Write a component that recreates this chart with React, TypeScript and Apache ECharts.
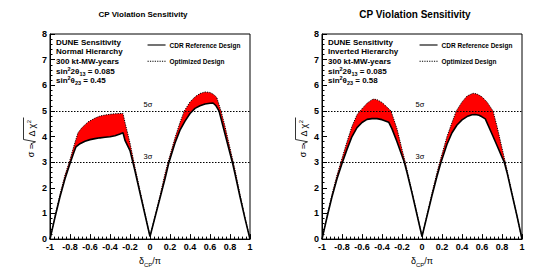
import React, { useEffect, useRef } from "react";
import * as echarts from "echarts";

const FONT = "'Liberation Sans', Arial, Helvetica, sans-serif";

// sigma reference levels
const sigmaLevels = [3, 5];
const sigmaLabels = ["3σ", "5σ"];

// Normal hierarchy – CDR reference design (solid)
const nhCdrX = [-1, -0.95, -0.9, -0.85, -0.8, -0.76, -0.74, -0.7, -0.65, -0.6, -0.55, -0.5, -0.45, -0.4, -0.35, -0.3, -0.27, -0.25, -0.2, -0.15, -0.1, -0.05, 0, 0.05, 0.1, 0.15, 0.19, 0.25, 0.3, 0.35, 0.4, 0.45, 0.5, 0.55, 0.6, 0.63, 0.66, 0.69, 0.75, 0.8, 0.823, 0.85, 0.9, 0.95, 1];
const nhCdrY = [0, 0.85, 1.65, 2.35, 2.95, 3.4, 3.6, 3.72, 3.82, 3.88, 3.92, 3.95, 3.97, 3.99, 4.03, 4.1, 4.15, 3.85, 3.45, 2.65, 1.8, 0.95, 0.1, 0.85, 1.6, 2.35, 3.0, 3.75, 4.25, 4.6, 4.9, 5.1, 5.2, 5.27, 5.3, 5.31, 5.2, 5.0, 4.1, 3.35, 3.0, 2.55, 1.65, 0.8, 0];

// Normal hierarchy – optimized design (dotted)
const nhOptX = [-1, -0.95, -0.9, -0.85, -0.8, -0.76, -0.72, -0.68, -0.62, -0.55, -0.5, -0.45, -0.4, -0.35, -0.3, -0.27, -0.25, -0.2, -0.15, -0.1, -0.05, 0, 0.05, 0.1, 0.15, 0.18, 0.25, 0.3, 0.343, 0.4, 0.45, 0.5, 0.55, 0.6, 0.633, 0.667, 0.71, 0.75, 0.8, 0.833, 0.85, 0.9, 0.95, 1];
const nhOptY = [0, 0.9, 1.75, 2.5, 3.1, 3.65, 4.15, 4.35, 4.57, 4.72, 4.8, 4.84, 4.87, 4.89, 4.9, 4.9, 4.55, 3.75, 2.8, 1.9, 1.0, 0.1, 0.9, 1.7, 2.55, 3.0, 3.95, 4.55, 5.0, 5.35, 5.55, 5.68, 5.74, 5.72, 5.65, 5.53, 5.0, 4.4, 3.55, 3.0, 2.7, 1.75, 0.85, 0];

// Inverted hierarchy – CDR reference design (solid)
const ihCdrX = [-1, -0.95, -0.9, -0.85, -0.8, -0.75, -0.7, -0.65, -0.6, -0.55, -0.5, -0.45, -0.4, -0.333, -0.3, -0.25, -0.2, -0.177, -0.15, -0.1, -0.05, 0, 0.05, 0.1, 0.15, 0.19, 0.25, 0.3, 0.35, 0.4, 0.45, 0.5, 0.533, 0.57, 0.6, 0.633, 0.7, 0.75, 0.8, 0.823, 0.85, 0.9, 0.95, 1];
const ihCdrY = [0, 0.85, 1.65, 2.35, 2.95, 3.5, 4.0, 4.35, 4.55, 4.67, 4.7, 4.7, 4.66, 4.56, 4.3, 3.8, 3.25, 3.0, 2.6, 1.8, 0.95, 0.1, 0.9, 1.7, 2.45, 3.0, 3.7, 4.15, 4.45, 4.65, 4.78, 4.85, 4.86, 4.83, 4.77, 4.69, 4.1, 3.65, 3.2, 3.0, 2.6, 1.75, 0.9, 0];

// Inverted hierarchy – optimized design (dotted)
const ihOptX = [-1, -0.95, -0.9, -0.85, -0.8, -0.75, -0.7, -0.65, -0.62, -0.55, -0.5, -0.483, -0.45, -0.4, -0.35, -0.31, -0.25, -0.2, -0.167, -0.15, -0.1, -0.05, 0, 0.05, 0.1, 0.15, 0.177, 0.25, 0.3, 0.343, 0.4, 0.45, 0.51, 0.55, 0.6, 0.65, 0.71, 0.75, 0.8, 0.833, 0.85, 0.9, 0.95, 1];
const ihOptY = [0, 0.9, 1.75, 2.5, 3.15, 3.8, 4.4, 4.85, 5.0, 5.3, 5.44, 5.46, 5.44, 5.33, 5.15, 5.0, 4.3, 3.5, 3.0, 2.7, 1.85, 1.0, 0.1, 0.95, 1.8, 2.6, 3.0, 4.0, 4.55, 5.0, 5.35, 5.58, 5.69, 5.66, 5.55, 5.35, 5.0, 4.4, 3.55, 3.0, 2.7, 1.8, 0.9, 0];

const titles = ["CP Violation Sensitivity", "CP Violation Sensitivity"];
const hierarchies = ["Normal Hierarchy", "Inverted Hierarchy"];
const theta23 = ["0.45", "0.58"];
const legendNames = ["CDR Reference Design", "Optimized Design"];

const pairs = (xs: number[], ys: number[]) => xs.map((x, i) => [x, ys[i]]);

const panels = [
  { cdr: pairs(nhCdrX, nhCdrY), opt: pairs(nhOptX, nhOptY), titleSize: 8, titleTop: 10 },
  { cdr: pairs(ihCdrX, ihCdrY), opt: pairs(ihOptX, ihOptY), titleSize: 10, titleTop: 9.5 },
];
const offsets = [0, 272];

const fmt = (v: number) => String(parseFloat(v.toFixed(2)));

export default function App() {
  const ref = useRef<HTMLDivElement>(null);
  useEffect(() => {
    if (!ref.current) return;
    const chart = echarts.init(ref.current, undefined, { renderer: "svg" });

    const title: any[] = [];
    const grid: any[] = [];
    const xAxis: any[] = [];
    const yAxis: any[] = [];
    const series: any[] = [];
    const legend: any[] = [];
    const graphic: any[] = [];

    panels.forEach((p, i) => {
      const off = offsets[i];
      title.push({
        text: titles[i],
        left: 143 + off,
        top: p.titleTop,
        textAlign: "center",
        padding: 0,
        textStyle: { fontSize: p.titleSize, fontWeight: "bold", fontFamily: FONT, color: "#000" },
      });
      grid.push({ left: 50 + off, top: 34, width: 200, height: 208, show: true, borderColor: "#000", borderWidth: 1, backgroundColor: "transparent" });
      xAxis.push({
        gridIndex: i,
        type: "value",
        min: -1,
        max: 1,
        interval: 0.2,
        axisLine: { show: true, onZero: false, lineStyle: { color: "#000", width: 1 } },
        axisTick: { show: true, inside: true, length: 5, lineStyle: { color: "#000", width: 1 } },
        minorTick: { show: true, splitNumber: 5, length: 2.5, lineStyle: { color: "#000", width: 1 } },
        splitLine: { show: false },
        axisLabel: { color: "#000", fontWeight: "bold", fontSize: 9, fontFamily: FONT, margin: 3, formatter: fmt },
        name: "δ{sub|CP}/π",
        nameLocation: "middle",
        nameGap: 11,
        nameTextStyle: {
          color: "#000",
          fontSize: 9,
          fontFamily: FONT,
          rich: { sub: { fontSize: 6, fontFamily: FONT, color: "#000", verticalAlign: "bottom", lineHeight: 6, padding: [0, 0, -3, 0] } },
        },
      });
      yAxis.push({
        gridIndex: i,
        type: "value",
        min: 0,
        max: 8,
        interval: 1,
        axisLine: { show: true, onZero: false, lineStyle: { color: "#000", width: 1 } },
        axisTick: { show: true, inside: true, length: 5, lineStyle: { color: "#000", width: 1 } },
        minorTick: { show: true, splitNumber: 5, length: 2.5, lineStyle: { color: "#000", width: 1 } },
        splitLine: { show: false },
        axisLabel: { color: "#000", fontWeight: "bold", fontSize: 9, fontFamily: FONT, margin: 3 },
      });
      series.push({
        type: "custom",
        xAxisIndex: i,
        yAxisIndex: i,
        silent: true,
        z: 1,
        data: [[0, 0]],
        renderItem: (_params: any, api: any) => {
          const pts = [
            ...p.cdr.map((d) => api.coord(d)),
            ...p.opt.slice().reverse().map((d) => api.coord(d)),
          ];
          return { type: "polygon", shape: { points: pts }, style: { fill: "#ff0000", stroke: "none" } };
        },
      });
      series.push({
        type: "line",
        name: legendNames[0],
        xAxisIndex: i,
        yAxisIndex: i,
        data: p.cdr,
        symbol: "none",
        silent: true,
        z: 3,
        lineStyle: { color: "#000", width: 1.6 },
        itemStyle: { color: "#000" },
        markLine: {
          silent: true,
          symbol: ["none", "none"],
          animation: false,
          lineStyle: { color: "#000", width: 1, type: [1.5, 1.5] },
          label: {
            show: true,
            position: "insideMiddleTop",
            distance: 2,
            formatter: "{b}",
            color: "#000",
            fontSize: 7.5,
            fontFamily: FONT,
            offset: [-2, 0],
          },
          data: sigmaLevels.map((lv, k) => ({ yAxis: lv, name: sigmaLabels[k] })),
        },
      });
      series.push({
        type: "line",
        name: legendNames[1],
        xAxisIndex: i,
        yAxisIndex: i,
        data: p.opt,
        symbol: "none",
        silent: true,
        z: 3,
        lineStyle: { color: "#000", width: 1, type: [1.2, 1.2] },
        itemStyle: { color: "#000" },
      });
      legend.push({
        data: legendNames,
        orient: "vertical",
        left: 147 + off,
        top: 41.5,
        itemWidth: 18,
        itemHeight: 8,
        itemGap: 9.3,
        padding: 0,
        selectedMode: false,
        itemStyle: { opacity: 0 },
        lineStyle: { width: 1.1 },
        textStyle: { fontSize: 6.5, fontWeight: "bold", fontFamily: FONT, color: "#000", padding: [0, 0, 0, -1] },
      });

      const infoLines = [
        "DUNE Sensitivity",
        hierarchies[i],
        "300 kt-MW-years",
        "sin{sup|2}2θ{sub|13} = 0.085",
        "sin{sup|2}θ{sub|23} = " + theta23[i],
      ];
      const infoY = [42, 51.7, 61.3, 71, 80.7];
      infoLines.forEach((t, k) => {
        graphic.push({
          type: "text",
          x: 56 + off,
          y: infoY[k],
          silent: true,
          style: {
            text: t,
            fontSize: 8,
            fontWeight: "bold",
            fontFamily: FONT,
            fill: "#000",
            textVerticalAlign: "middle",
            verticalAlign: "middle",
            lineHeight: 11,
            rich: {
              sup: { fontSize: 5.5, fontWeight: "bold", fontFamily: FONT, fill: "#000", verticalAlign: "top", lineHeight: 6 },
              sub: { fontSize: 5.5, fontWeight: "bold", fontFamily: FONT, fill: "#000", verticalAlign: "bottom", lineHeight: 6 },
            },
          },
        });
      });

      graphic.push({
        type: "group",
        x: 31 + off,
        y: 141,
        rotation: Math.PI / 2,
        silent: true,
        children: [
          {
            type: "text",
            x: -3,
            y: 0,
            style: { text: "σ =", fontSize: 9, fontFamily: FONT, fill: "#000", textAlign: "right", align: "right", textVerticalAlign: "middle", verticalAlign: "middle" },
          },
          {
            type: "polyline",
            shape: { points: [[-4, 1], [-2.8, 0], [-0.8, 4.5], [1.5, -7.5], [23.5, -7.5]] },
            style: { stroke: "#000", lineWidth: 0.8, fill: "none" },
          },
          {
            type: "text",
            x: 4.5,
            y: 0.5,
            style: {
              text: "Δ χ{sup|2}",
              fontSize: 9,
              fontFamily: FONT,
              fill: "#000",
              textAlign: "left",
              align: "left",
              textVerticalAlign: "middle",
              verticalAlign: "middle",
              lineHeight: 12,
              rich: { sup: { fontSize: 6, fontFamily: FONT, fill: "#000", verticalAlign: "top", lineHeight: 6 } },
            },
          },
        ],
      });
    });

    chart.setOption({
      animation: false,
      backgroundColor: "#fff",
      title,
      grid,
      xAxis,
      yAxis,
      legend,
      series,
      graphic,
    });
    return () => chart.dispose();
  }, []);
  return <div ref={ref} style={{ position: "absolute", left: 0, top: 0, width: 545, height: 273 }} />;
}
